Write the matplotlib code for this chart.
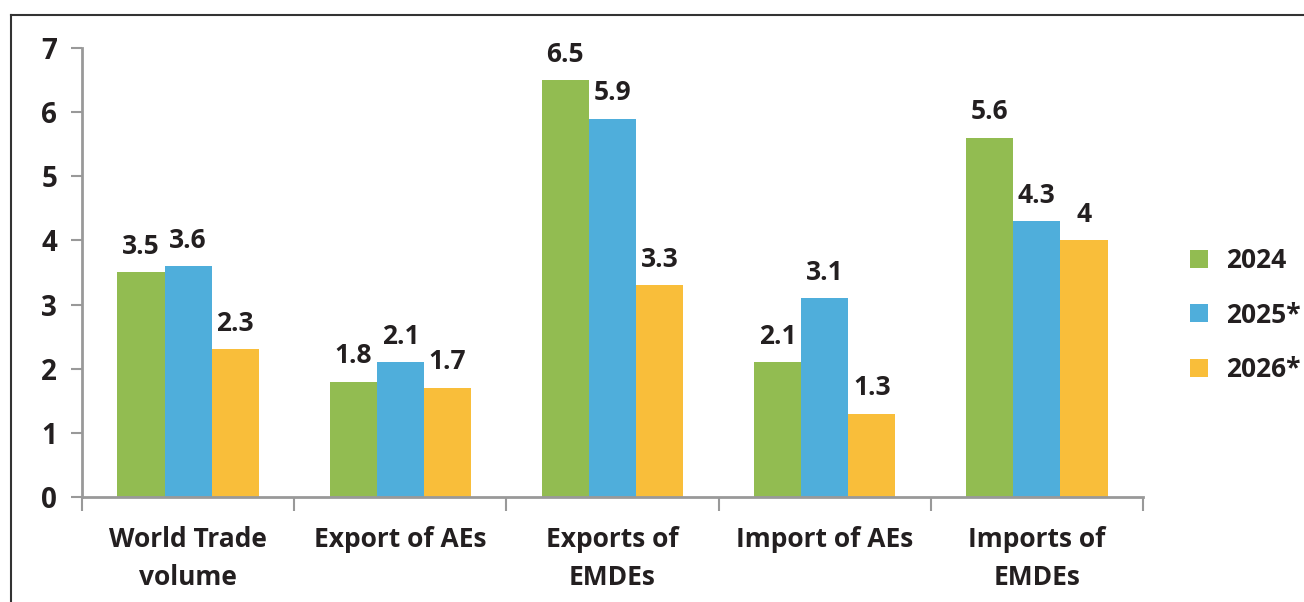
import matplotlib.pyplot as plt
import numpy as np
from matplotlib.lines import Line2D

categories = ["World Trade\nvolume", "Export of AEs", "Exports of\nEMDEs",
              "Import of AEs", "Imports of\nEMDEs"]
v2024 = [3.5, 1.8, 6.5, 2.1, 5.6]
v2025 = [3.6, 2.1, 5.9, 3.1, 4.3]
v2026 = [2.3, 1.7, 3.3, 1.3, 4.0]
series = [("2024", v2024, "#92BC51"), ("2025*", v2025, "#4FAEDB"), ("2026*", v2026, "#F9BE3A")]

plt.rcParams['font.family'] = ['Open Sans', 'DejaVu Sans']
plt.rcParams['font.weight'] = 'bold'

fig = plt.figure(figsize=(13.04, 6.02), dpi=100)
ax = fig.add_axes([0.0629, 0.1744, 0.8136, 0.7459])

x = np.arange(len(categories))
w = 0.222
for i, (name, vals, col) in enumerate(series):
    bars = ax.bar(x + (i - 1) * w, vals, w, color=col, label=name, linewidth=0)
    for b, v in zip(bars, vals):
        ax.annotate(f"{v:g}", (b.get_x() + b.get_width() / 2, v), xytext=(0, 9),
                    textcoords="offset points", ha="center", va="bottom",
                    fontsize=19, fontweight="bold", color="#231F20")

ax.set_xlim(-0.5, len(categories) - 0.5)
ax.set_ylim(0, 7)
ax.set_yticks(range(0, 8))
ax.set_xticks(x)
ax.set_xticklabels(categories, fontsize=19, fontweight="bold", color="#231F20", linespacing=1.5)
ax.set_xticks(np.arange(-0.5, len(categories)), minor=True)
ax.tick_params(axis="x", which="major", length=0, pad=21)
ax.tick_params(axis="x", which="minor", length=10, width=1.5, color="#999999")
ax.tick_params(axis="y", length=8, width=1.5, color="#999999", labelsize=20,
               labelcolor="#231F20", pad=10)
for lab in ax.get_yticklabels():
    lab.set_fontweight("bold")

for s in ["top", "right"]:
    ax.spines[s].set_visible(False)
for s in ["left", "bottom"]:
    ax.spines[s].set_color("#999999")
    ax.spines[s].set_linewidth(2)

leg = ax.legend(loc="center left", bbox_to_anchor=(1.022, 0.405), frameon=False,
                prop={"size": 19, "weight": "bold"}, handlelength=0.68, handleheight=0.68,
                labelspacing=1.05, handletextpad=0.7)
for t in leg.get_texts():
    t.set_color("#231F20")

# outer frame lines
fig.add_artist(Line2D([11 / 1304, 1], [1 - 15 / 602, 1 - 15 / 602], color="#333333", lw=1.5))
fig.add_artist(Line2D([11 / 1304, 11 / 1304], [0, 1 - 15 / 602], color="#333333", lw=1.5))

fig.savefig("out.png", dpi=100)
